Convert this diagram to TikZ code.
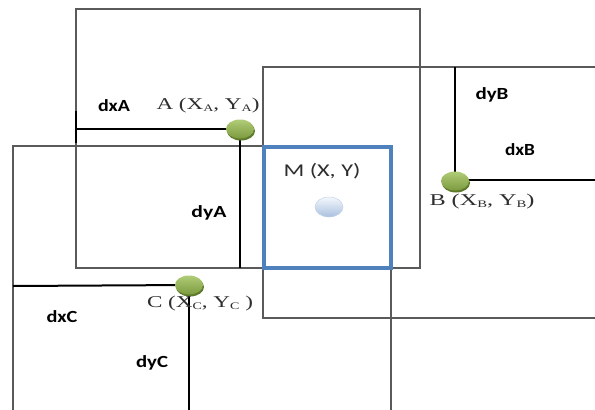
\documentclass[tikz,border=0pt]{standalone}
\usepackage{fontspec}
\usetikzlibrary{shapes.geometric,shadows}
\newfontfamily\calb{Carlito}
\newfontfamily\timesf{Liberation Serif}
\definecolor{framegray}{HTML}{5A5A5A}
\definecolor{mblue}{HTML}{4F81BD}
\definecolor{gtop}{HTML}{B0CC78}
\definecolor{gbot}{HTML}{7C9B3E}
\definecolor{gshadow}{HTML}{5E7A2C}
\definecolor{btop}{HTML}{F4F7FC}
\definecolor{bbot}{HTML}{A9C0DE}
\definecolor{labgray}{HTML}{2E2E2E}
\newcommand{\wlab}[2]{\resizebox{#1pt}{\height}{#2}}
\newcommand{\sbs}[1]{\raisebox{-2pt}{\fontsize{10}{10}\selectfont #1}}
\tikzset{
  frame/.style={draw=framegray, line width=1.2pt},
  mframe/.style={draw=mblue, line width=3.2pt},
  conn/.style={draw=black, line width=2pt},
  gpoint/.style={ellipse, minimum width=28pt, minimum height=19pt, inner sep=0pt,
     top color=gtop, bottom color=gbot, draw=none,
     drop shadow={shadow xshift=1pt, shadow yshift=-2pt, fill=gshadow, opacity=1}},
  mpoint/.style={ellipse, minimum width=28pt, minimum height=20pt, inner sep=0pt,
     top color=btop, bottom color=bbot, draw=bbot!70, line width=0.5pt},
  dlab/.style={inner sep=0pt, font=\calb\bfseries\fontsize{17}{17}\selectfont, text=black},
  slab/.style={inner sep=0pt, font=\timesf\fontsize{16.5}{16.5}\selectfont, text=labgray},
  mlab/.style={inner sep=0pt, font=\calb\fontsize{18}{18}\selectfont, text=labgray},
}
\begin{document}
\begin{tikzpicture}[x=1pt,y=-1pt]
\useasboundingbox (0,0) rectangle (595,410);
\clip (0,0) rectangle (595,410);
\fill[white] (0,0) rectangle (595,410);

% frames
\draw[frame] (76,9) rectangle (420,268);
\draw[frame] (263,67) rectangle (620,318);
\draw[frame] (13,146) rectangle (391,430);
\draw[mframe] (264,147) rectangle (391,268);

% coordinates
\coordinate (Ac) at (240,129);
\coordinate (Bc) at (455,180);
\coordinate (Cc) at (189,285);
\coordinate (Aleft) at (76,129);
\coordinate (Atick1) at (76,111);
\coordinate (Atick2) at (76,143);
\coordinate (Adown) at (240,268);
\coordinate (Bup) at (455,67);
\coordinate (Bright) at (600,180);
\coordinate (Cleft) at (13,286);
\coordinate (Cdown) at (189,420);

% connectors
\draw[conn] (Atick1) -- (Atick2);
\draw[conn] (Aleft) -- (Ac);
\draw[conn] (Ac) -- (Adown);
\draw[conn] (Bup) -- (Bc);
\draw[conn] (Bc) -- (Bright);
\draw[conn] (Cleft) -- (Cc);
\draw[conn] (Cc) -- (Cdown);

% points
\node[gpoint] (A) at (Ac) {};
\node[gpoint] (B) at ([yshift=-1pt]Bc) {};
\node[gpoint] (C) at (Cc) {};
\node[mpoint] (M) at (329,207) {};

% labels
\node[dlab] (dxA) at (114,106) {\wlab{32}{dxA}};
\node[slab] (labA) at (208,106) {\wlab{103}{A (X\sbs{A}, Y\sbs{A})}};
\node[dlab] (dyA) at (209,213) {\wlab{35}{dyA}};
\node[mlab] (labM) at (322,171) {\wlab{77}{M (X, Y)}};
\node[dlab] (dyB) at (492,95) {\wlab{33}{dyB}};
\node[dlab] (dxB) at (520,150) {\wlab{30}{dxB}};
\node[slab] (labB) at (482,202) {\wlab{105}{B (X\sbs{B}, Y\sbs{B})}};
\node[slab] (labC) at (200,304) {\wlab{106}{C (X\sbs{C}, Y\sbs{C} )}};
\node[dlab] (dxC) at (62,317) {\wlab{31}{dxC}};
\node[dlab] (dyC) at (152,363) {\wlab{32}{dyC}};
\end{tikzpicture}
\end{document}
